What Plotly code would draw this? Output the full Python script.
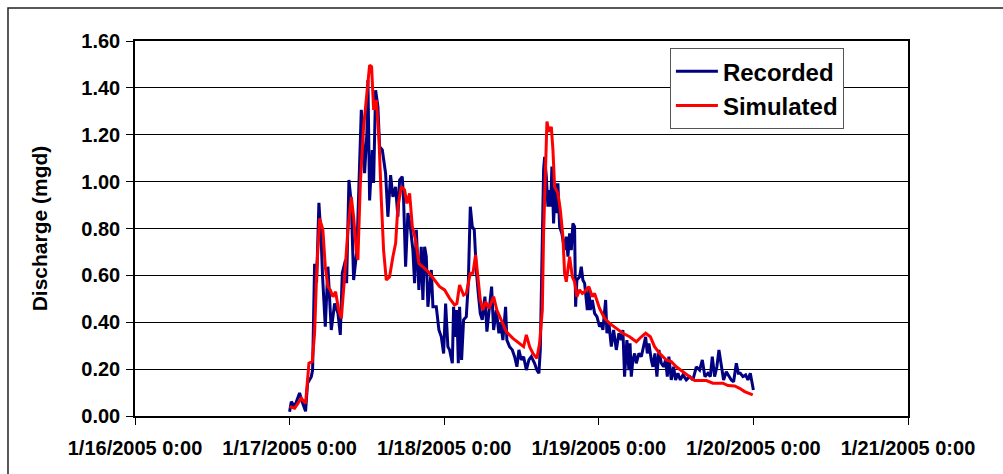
import pandas as pd
import plotly.graph_objects as go

# Hours after 1/17/2005 0:00 and discharge (mgd)
recorded_hours = [0.0, 0.26, 0.78, 1.55, 2.02, 2.48, 2.79, 3.37, 3.57, 3.88, 4.19, 4.55, 4.92, 5.12, 5.54, 5.95,
                  6.47, 6.99, 7.50, 7.87, 8.18, 8.69, 8.85, 9.21, 9.58, 9.94, 10.45, 10.87, 11.13, 11.64, 12.0,
                  12.16, 12.42, 12.84, 13.04, 13.35, 13.71, 13.97, 14.39, 14.90, 15.26, 15.68, 16.04, 16.46,
                  16.81, 17.08, 17.49, 17.70, 18.01, 18.36, 18.74, 19.14, 19.40, 19.67, 20.07, 20.44, 20.69,
                  20.96, 21.22, 21.47, 22.0, 22.25, 22.77, 23.18, 23.55, 23.91, 24.22, 24.57, 24.84, 25.26,
                  25.46, 25.77, 25.97, 26.19, 26.39, 26.70, 27.01, 27.43, 27.74, 28.05, 28.36, 28.67, 28.98,
                  29.29, 29.60, 29.91, 30.32, 30.63, 30.94, 31.36, 31.67, 32.09, 32.49, 32.80, 33.11, 33.53,
                  33.73, 34.15, 34.57, 34.93, 35.29, 35.60, 35.97, 36.33, 36.75, 37.15, 37.52, 38.03, 38.39,
                  38.70, 38.92, 39.23, 39.43, 39.59, 39.85, 40.10, 40.36, 40.52, 40.72, 40.98, 41.25, 41.40,
                  41.65, 41.92, 42.27, 42.69, 42.95, 43.21, 43.47, 43.73, 43.98, 44.24, 44.40, 44.60, 45.02,
                  45.28, 45.53, 45.80, 46.06, 46.22, 46.46, 46.68, 46.99, 47.35, 47.71, 48.12, 48.39, 48.64,
                  49.06, 49.26, 49.57, 49.94, 50.30, 50.72, 51.12, 51.49, 51.74, 52.0, 52.36, 52.67, 52.85,
                  53.04, 53.29, 53.56, 53.82, 54.23, 54.60, 54.96, 55.27, 55.53, 55.78, 56.15, 56.40, 56.71,
                  57.02, 57.33, 57.70, 58.06, 58.37, 58.63, 58.88, 59.25, 59.61, 59.92, 60.28, 60.65, 61.06,
                  61.58, 62.10, 62.61, 63.14, 63.65, 64.07, 64.47, 64.94, 65.31, 65.62, 65.98, 66.33, 66.65,
                  67.02, 67.37, 67.79, 68.20, 68.57, 68.93, 69.35, 69.66, 69.97, 70.38, 70.80, 71.15, 71.52,
                  72.0]
recorded_mgd = [0.018, 0.061, 0.04, 0.098, 0.055, 0.02, 0.14, 0.168, 0.196, 0.65, 0.57, 0.91, 0.74, 0.594, 0.381,
                0.637, 0.367, 0.48, 0.44, 0.346, 0.61, 0.666, 0.567, 1.007, 0.907, 0.58, 0.708, 1.135, 1.306,
                1.036, 1.207, 1.433, 0.92, 1.135, 0.994, 1.39, 1.32, 1.149, 1.135, 1.036, 0.85, 1.028, 0.935,
                0.978, 0.85, 1.007, 1.021, 0.92, 0.637, 0.866, 0.808, 0.708, 0.567, 0.794, 0.538, 0.722, 0.495,
                0.722, 0.68, 0.466, 0.623, 0.466, 0.466, 0.367, 0.338, 0.267, 0.48, 0.296, 0.282, 0.225, 0.466,
                0.338, 0.452, 0.225, 0.466, 0.239, 0.41, 0.424, 0.566, 0.893, 0.808, 0.794, 0.623, 0.523, 0.438,
                0.41, 0.509, 0.36, 0.452, 0.552, 0.367, 0.452, 0.353, 0.395, 0.324, 0.466, 0.324, 0.296, 0.282,
                0.253, 0.21, 0.282, 0.239, 0.253, 0.196, 0.239, 0.253, 0.225, 0.196, 0.182, 0.282, 0.708, 1.05,
                1.106, 1.021, 0.893, 0.964, 0.893, 1.064, 0.822, 0.993, 0.865, 0.993, 0.808, 0.779, 0.708, 0.765,
                0.68, 0.779, 0.708, 0.822, 0.808, 0.466, 0.58, 0.594, 0.637, 0.58, 0.566, 0.509, 0.452, 0.538,
                0.452, 0.495, 0.438, 0.424, 0.381, 0.395, 0.367, 0.495, 0.353, 0.395, 0.296, 0.367, 0.282, 0.353,
                0.324, 0.367, 0.168, 0.324, 0.196, 0.31, 0.168, 0.239, 0.267, 0.225, 0.267, 0.253, 0.296, 0.338,
                0.267, 0.31, 0.239, 0.21, 0.267, 0.168, 0.282, 0.225, 0.21, 0.239, 0.168, 0.253, 0.154, 0.21,
                0.154, 0.182, 0.154, 0.175, 0.154, 0.168, 0.154, 0.21, 0.196, 0.239, 0.168, 0.182, 0.168, 0.253,
                0.168, 0.21, 0.282, 0.21, 0.154, 0.189, 0.168, 0.154, 0.146, 0.225, 0.182, 0.182, 0.168, 0.175,
                0.154, 0.182, 0.111]

simulated_hours = [0.0, 0.78, 1.29, 1.82, 2.48, 3.0, 3.52, 3.88, 4.24, 4.66, 5.17, 5.54, 5.95, 6.32, 6.72, 7.14,
                   7.61, 8.03, 8.54, 9.05, 9.58, 9.94, 10.35, 10.60, 10.98, 11.49, 12.0, 12.42, 12.73, 13.04,
                   13.46, 13.86, 14.24, 14.59, 15.01, 15.52, 16.04, 16.46, 16.81, 17.34, 17.85, 18.21, 18.63,
                   19.05, 19.56, 20.07, 20.96, 21.73, 22.51, 23.29, 24.06, 24.84, 25.61, 25.97, 26.39, 27.01,
                   27.43, 28.05, 28.46, 28.87, 29.23, 29.60, 30.01, 30.43, 30.94, 31.67, 32.18, 32.86, 33.64,
                   34.67, 35.71, 36.33, 36.75, 37.26, 37.77, 38.39, 38.81, 39.23, 39.43, 39.74, 39.95, 40.26,
                   40.63, 40.88, 41.14, 41.65, 42.03, 42.43, 42.69, 42.95, 43.47, 43.89, 44.24, 44.60, 45.02,
                   45.44, 45.80, 46.46, 46.99, 47.35, 48.12, 48.90, 49.68, 50.72, 51.74, 52.78, 53.82, 54.60,
                   55.27, 56.0, 56.66, 57.44, 58.48, 59.25, 60.03, 61.06, 62.10, 62.88, 64.69, 65.72, 67.27,
                   68.05, 69.09, 69.86, 70.64, 71.9]
simulated_mgd = [0.04, 0.033, 0.054, 0.076, 0.054, 0.225, 0.232, 0.353, 0.637, 0.843, 0.794, 0.637, 0.552, 0.538,
                 0.509, 0.53, 0.452, 0.417, 0.594, 0.794, 0.935, 0.85, 0.708, 0.666, 0.993, 1.234, 1.377, 1.497,
                 1.49, 1.306, 1.348, 1.192, 0.921, 0.708, 0.58, 0.594, 0.68, 0.737, 0.893, 0.978, 0.964, 0.907,
                 0.95, 0.808, 0.751, 0.651, 0.63, 0.609, 0.58, 0.552, 0.538, 0.502, 0.474, 0.48, 0.559, 0.516,
                 0.523, 0.609, 0.609, 0.687, 0.594, 0.495, 0.452, 0.488, 0.459, 0.509, 0.452, 0.41, 0.36, 0.331,
                 0.31, 0.296, 0.346, 0.296, 0.267, 0.246, 0.31, 0.452, 0.779, 1.135, 1.256, 1.213, 1.234, 1.135,
                 0.978, 0.95, 0.879, 0.765, 0.609, 0.573, 0.68, 0.594, 0.573, 0.509, 0.538, 0.523, 0.53, 0.552,
                 0.509, 0.523, 0.459, 0.417, 0.395, 0.374, 0.353, 0.338, 0.317, 0.338, 0.353, 0.338, 0.296, 0.267,
                 0.239, 0.232, 0.21, 0.189, 0.168, 0.151, 0.151, 0.14, 0.14, 0.13, 0.128, 0.118, 0.104, 0.09]

start = pd.Timestamp("2005-01-17 00:00")
rec_t = start + pd.to_timedelta(recorded_hours, unit="h")
sim_t = start + pd.to_timedelta(simulated_hours, unit="h")

FONT = "Liberation Sans, Arial, sans-serif"

fig = go.Figure()
fig.add_trace(go.Scatter(x=rec_t, y=recorded_mgd, mode="lines", name="Recorded",
                         line=dict(color="#000080", width=3)))
fig.add_trace(go.Scatter(x=sim_t, y=simulated_mgd, mode="lines", name="Simulated",
                         line=dict(color="#FF0000", width=3)))

fig.update_layout(
    width=1003, height=474,
    margin=dict(l=135, r=95, t=41, b=58),
    paper_bgcolor="white", plot_bgcolor="white",
    font=dict(family=FONT, color="black"),
    showlegend=True,
    legend=dict(x=0.692, y=0.981, xanchor="left", yanchor="top",
                bgcolor="white", bordercolor="#555555", borderwidth=1,
                font=dict(family=FONT, size=24, color="black", weight="bold"),
                itemwidth=42, tracegroupgap=0),
)
fig.update_xaxes(
    type="date",
    range=["2005-01-16 00:00", "2005-01-21 00:00"],
    tick0="2005-01-16 00:00", dtick=86400000,
    tickformat="%-m/%-d/%Y %-H:%M",
    ticks="outside", ticklen=7, tickcolor="black", tickwidth=1,
    ticklabelstandoff=6,
    showgrid=False, zeroline=False,
    showline=True, linecolor="black", linewidth=1.5, mirror=True,
    tickfont=dict(family=FONT, size=20, color="black", weight="bold"),
)
fig.update_yaxes(
    range=[0, 1.6], dtick=0.2, tickformat=".2f",
    ticks="outside", ticklen=7, tickcolor="black", tickwidth=1,
    ticklabelstandoff=2,
    showgrid=True, gridcolor="black", gridwidth=1, zeroline=False,
    showline=True, linecolor="black", linewidth=1.5, mirror=True,
    tickfont=dict(family=FONT, size=20, color="black", weight="bold"),
    title=dict(text="Discharge (mgd)", standoff=28,
               font=dict(family=FONT, size=21, color="black", weight="bold")),
)
# outer chart border
fig.add_shape(type="rect", xref="paper", yref="paper",
              x0=-0.1643, x1=1.3, y0=-0.4, y1=1.088,
              line=dict(color="#222222", width=1.5), fillcolor="rgba(0,0,0,0)")

fig.write_html("out.html")
